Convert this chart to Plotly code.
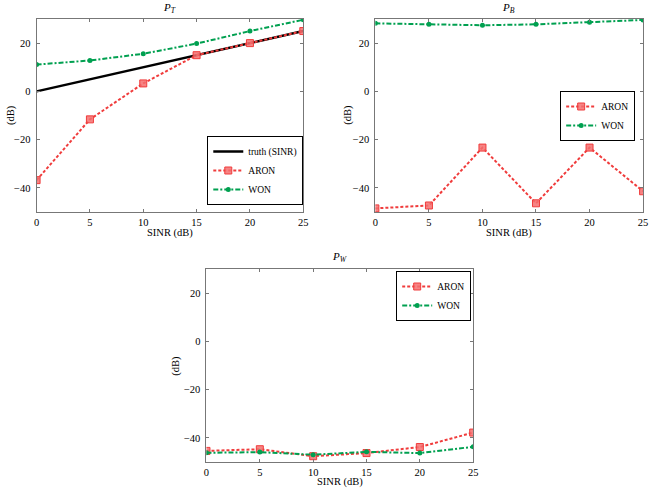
import plotly.graph_objects as go

sinr = [0, 5, 10, 15, 20, 25]

# P_T panel
pt_truth = [0, 5, 10, 15, 20, 25]
pt_aron = [-36.8, -11.6, 3.3, 15.0, 20.0, 25.0]
pt_won = [11.1, 12.8, 15.6, 19.8, 25.0, 29.7]

# P_B panel
pb_aron = [-48.5, -47.3, -23.3, -46.4, -23.3, -41.4]
pb_won = [28.2, 27.8, 27.4, 27.8, 28.7, 29.6]

# P_W panel
pw_aron = [-45.4, -44.7, -47.6, -46.3, -43.8, -37.8]
pw_won = [-46.2, -45.9, -47.0, -45.8, -46.3, -43.7]

x_ticks = [0, 5, 10, 15, 20, 25]
y_ticks = [-40, -20, 0, 20]

RED = "#f03c3c"
RED_FILL = "rgba(245,110,110,0.85)"
GREEN = "#00a050"
FONT = "Times New Roman, Liberation Serif, DejaVu Serif, serif"

fig = go.Figure()

def add_aron(y, xa, ya, leg):
    fig.add_trace(go.Scatter(
        x=sinr, y=y, xaxis=xa, yaxis=ya, name="ARON", legend=leg,
        mode="lines+markers",
        line=dict(color=RED, width=2, dash="3px,2px"),
        marker=dict(symbol="square", size=7, color=RED_FILL,
                    line=dict(color=RED, width=1)),
    ))

def add_won(y, xa, ya, leg):
    fig.add_trace(go.Scatter(
        x=sinr, y=y, xaxis=xa, yaxis=ya, name="WON", legend=leg,
        mode="lines+markers",
        line=dict(color=GREEN, width=2, dash="5px,2px,2px,2px"),
        marker=dict(symbol="circle", size=5, color=GREEN),
    ))

fig.add_trace(go.Scatter(
    x=sinr, y=pt_truth, xaxis="x", yaxis="y", name="truth (SINR)",
    legend="legend", mode="lines", line=dict(color="black", width=2.5),
))
add_aron(pt_aron, "x", "y", "legend")
add_won(pt_won, "x", "y", "legend")

add_aron(pb_aron, "x2", "y2", "legend2")
add_won(pb_won, "x2", "y2", "legend2")

add_aron(pw_aron, "x3", "y3", "legend3")
add_won(pw_won, "x3", "y3", "legend3")

W, H = 654, 488

def px(x):
    return x / W

def py(y):
    return 1 - y / H

axis_common = dict(
    showgrid=False, zeroline=False, showline=True, linecolor="#777777",
    linewidth=1, mirror="allticks", ticks="inside", ticklen=3,
    tickcolor="#777777", tickfont=dict(family=FONT, size=10.5, color="black"),
)

xdoms = {"x": [px(34), px(304)], "x2": [px(377), px(648)], "x3": [px(206), px(476)]}
ydoms = {"y": [py(212), py(19)], "y2": [py(212), py(19)], "y3": [py(462), py(269)]}

layout = dict(
    width=W, height=H, margin=dict(l=0, r=0, t=0, b=0),
    paper_bgcolor="white", plot_bgcolor="white",
    font=dict(family=FONT, size=10.5, color="black"),
)
for i, (xa, ya) in enumerate([("x", "y"), ("x2", "y2"), ("x3", "y3")]):
    xkey = "xaxis" if i == 0 else f"xaxis{i+1}"
    ykey = "yaxis" if i == 0 else f"yaxis{i+1}"
    layout[xkey] = dict(axis_common, domain=xdoms[xa], range=[0, 25],
                        tickvals=x_ticks, anchor=ya)
    layout[ykey] = dict(axis_common, domain=ydoms[ya], range=[-50, 30],
                        tickvals=y_ticks, anchor=xa, ticklabelstandoff=3)

leg_common = dict(bgcolor="white", bordercolor="black", borderwidth=1,
                  font=dict(family=FONT, size=9.5), xanchor="right",
                  tracegroupgap=0, itemwidth=30)
layout["legend"] = dict(leg_common, x=px(304), y=py(205), yanchor="bottom")
layout["legend2"] = dict(leg_common, x=px(640), y=py(116), yanchor="middle")
layout["legend3"] = dict(leg_common, x=px(474), y=py(271), yanchor="top")

fig.update_layout(**layout)

ann = []
def text(x, y, s, angle=0, size=10.5):
    ann.append(dict(x=px(x), y=py(y), xref="paper", yref="paper", text=s,
                    showarrow=False, textangle=angle,
                    font=dict(family=FONT, size=size, color="black"),
                    xanchor="center", yanchor="middle"))

text(169, 8, "<i>P</i><sub><i>T</i></sub>", size=11)
text(512, 8, "<i>P</i><sub><i>B</i></sub>", size=11)
text(341, 257, "<i>P</i><sub><i>W</i></sub>", size=11)
text(169, 233, "SINR (dB)")
text(512, 233, "SINR (dB)")
text(341, 482, "SINR (dB)")
text(8, 115, "(dB)", angle=-90)
text(349, 115, "(dB)", angle=-90)
text(175, 366, "(dB)", angle=-90)
fig.update_layout(annotations=ann)

fig.write_html("out.html")
